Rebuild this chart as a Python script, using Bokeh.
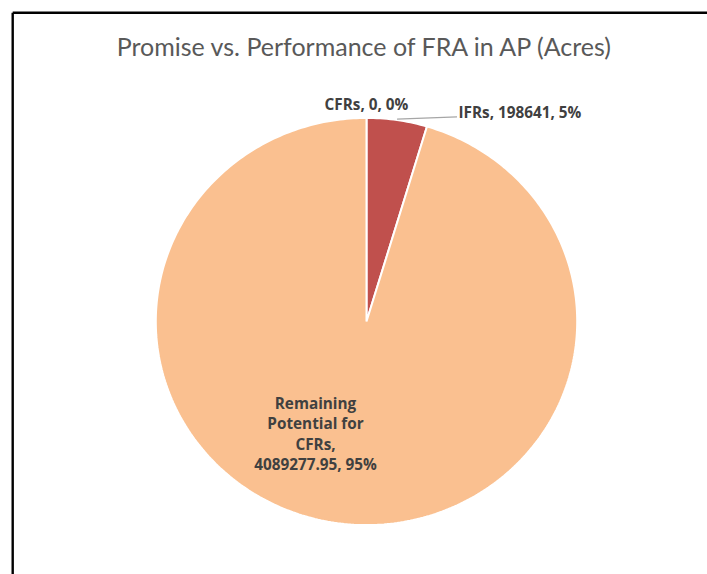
import math
from bokeh.plotting import figure
from bokeh.models import Range1d
from bokeh.core.properties import value
from bokeh.embed import file_html
from bokeh.resources import INLINE

# ---- data ----
categories = ["CFRs", "IFRs", "Remaining Potential for CFRs"]
acres = [0, 198641, 4089277.95]
colors = ["#4F81BD", "#C0504D", "#FAC090"]
title_text = "Promise vs. Performance of FRA in AP (Acres)"

# ---- layout (canvas pixels, y downward) ----
W, H = 707, 574
CX, CY = 366, 321
RX, RY = 210.7, 203.6

p = figure(width=W, height=H, output_backend="svg", toolbar_location=None,
           x_range=Range1d(0, W), y_range=Range1d(H, 0), min_border=0)
p.axis.visible = False
p.grid.visible = False
p.outline_line_color = None
p.background_fill_color = "white"
p.border_fill_color = "white"

total = sum(acres)
start = 0.0
xs, ys, mids = [], [], []
for v in acres:
    frac = v / total
    a0, a1 = start, start + frac * 2 * math.pi
    n = max(2, int(frac * 400))
    px = [CX]
    py = [CY]
    for i in range(n + 1):
        t = a0 + (a1 - a0) * i / n
        px.append(CX + RX * math.sin(t))
        py.append(CY - RY * math.cos(t))
    xs.append(px)
    ys.append(py)
    mids.append((a0 + a1) / 2)
    start = a1

p.patches(xs, ys, fill_color=colors, line_color="white", line_width=2)

def fmt(v):
    return str(v)

pct = [round(v / total * 100) for v in acres]
labels = [f"{c}, {fmt(v)}, {q}%" for c, v, q in zip(categories, acres, pct)]

font = value("Open Sans")
lab_color = "#404040"
fs = "15.3px"

# CFRs label above top of pie
p.text(x=[CX], y=[103.5], text=[labels[0]], text_font=font, text_font_size=fs,
       text_font_style="bold", text_color=lab_color, text_align="center",
       text_baseline="middle")

# IFRs label with leader line
m = mids[1]
lx0 = CX + RX * math.sin(m)
ly0 = CY - RY * math.cos(m) - 1
p.segment(x0=[lx0], y0=[ly0], x1=[456.5], y1=[116.3], line_color="#A6A6A6", line_width=1.3)
p.text(x=[458], y=[111.3], text=[labels[1]], text_font=font, text_font_size=fs,
       text_font_style="bold", text_color=lab_color, text_align="left",
       text_baseline="middle")

# Remaining label inside slice
rem = "Remaining\nPotential for\nCFRs,\n" + f"{fmt(acres[2])}, {pct[2]}%"
p.text(x=[315], y=[433], text=[rem], text_font=font, text_font_size=fs,
       text_font_style="bold", text_color=lab_color, text_align="center",
       text_baseline="middle", text_line_height=1.02)

# title
p.text(x=[365], y=[45], text=[title_text], text_font=value("Lato"),
       text_font_size="25px", text_color="#595959", text_align="center",
       text_baseline="middle")

# chart border (left and top edges visible)
p.segment(x0=[12.2, 12.2], y0=[H, 12.2], x1=[12.2, W], y1=[12.2, 12.2],
          line_color="black", line_width=2.4)

open("out.html", "w").write(file_html(p, INLINE))
